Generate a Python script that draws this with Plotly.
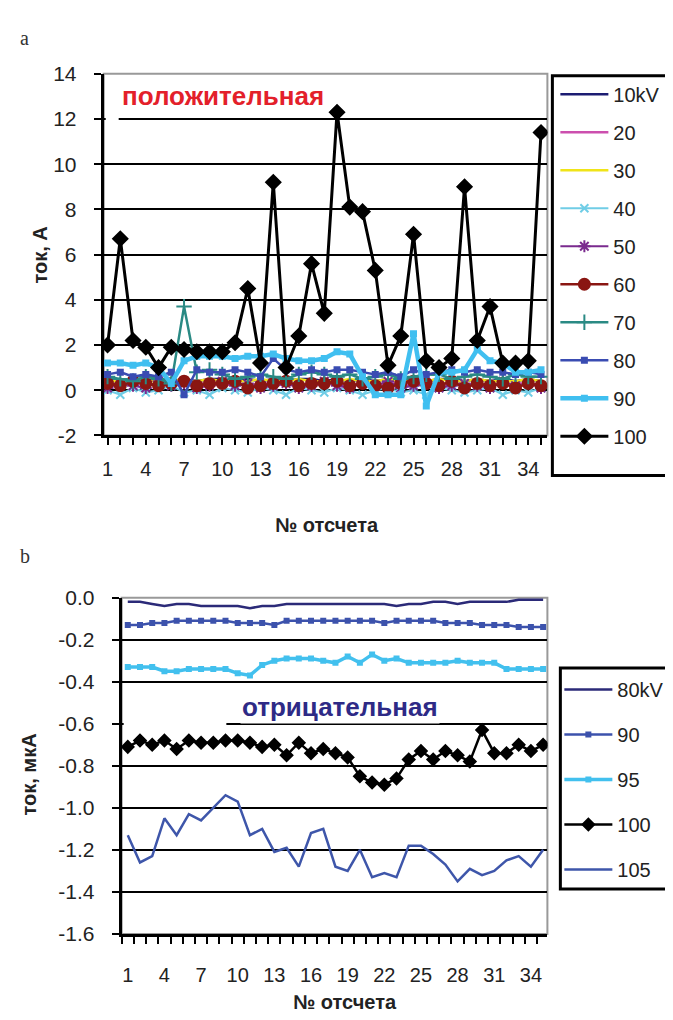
import plotly.graph_objects as go

W, H = 673, 1020

# ---------- данные: панель a (положительная) ----------
otschet = list(range(1, 36))

i_10kV = [0.5, 0.4, 0.5, 0.4, 0.5, 0.4, 0.5, 0.4, 0.5, 0.5, 0.4, 0.5, 0.4, 0.5, 0.4, 0.5, 0.5, 0.4,
          0.5, 0.4, 0.5, 0.4, 0.5, 0.4, 0.5, 0.4, 0.5, 0.5, 0.4, 0.5, 0.4, 0.5, 0.4, 0.5, 0.4]
i_20 = [0.3, 0.2, 0.3, 0.3, 0.2, 0.3, 0.2, 0.3, 0.3, 0.2, 0.3, 0.2, 0.3, 0.3, 0.2, 0.3, 0.2, 0.3,
        0.3, 0.2, 0.3, 0.2, 0.3, 0.3, 0.2, 0.3, 0.2, 0.3, 0.3, 0.2, 0.3, 0.2, 0.3, 0.3, 0.2]
i_30 = [0.4, 0.4, 0.5, 0.4, 0.4, 0.5, 0.4, 0.4, 0.5, 0.4, 0.4, 0.4, 0.5, 0.4, 0.4, 0.5, 0.4, 0.4,
        0.4, 0.5, 0.4, 0.4, 0.5, 0.4, 0.4, 0.4, 0.5, 0.4, 0.4, 0.5, 0.4, 0.4, 0.4, 0.5, 0.4]
i_40 = [0.0, -0.2, 0.1, -0.1, 0.0, 0.2, -0.1, 0.0, -0.2, 0.1, 0.0, -0.1, 0.1, 0.0, -0.2, 0.1, 0.0, -0.1,
        0.1, 0.0, -0.2, 0.0, 0.1, -0.1, 0.0, -0.2, 0.1, 0.0, -0.1, 0.0, 0.1, -0.2, 0.0, -0.1, 0.1]
i_50 = [0.1, 0.3, 0.2, 0.1, 0.4, 0.2, 0.3, 0.1, 0.2, 0.4, 0.2, 0.3, 0.1, 0.2, 0.3, 0.1, 0.2, 0.4,
        0.2, 0.1, 0.3, 0.2, 0.4, 0.1, 0.2, 0.3, 0.1, 0.2, 0.3, 0.2, 0.1, 0.4, 0.2, 0.3, 0.1]
i_60 = [0.3, 0.2, 0.4, 0.3, 0.2, 0.3, 0.4, 0.2, 0.3, 0.3, 0.4, 0.1, 0.2, 0.3, 0.4, 0.2, 0.3, 0.3,
        0.4, 0.2, 0.3, 0.2, 0.1, 0.3, 0.4, 0.3, 0.2, 0.4, 0.1, 0.3, 0.2, 0.3, 0.1, 0.3, 0.2]
i_70 = [0.6, 0.5, 0.4, 0.6, 0.5, 0.3, 3.7, 0.8, 0.9, 0.7, 0.5, 0.6, 0.7, 0.6, 0.5, 0.7, 0.8, 0.7,
        0.6, 0.7, 0.5, 0.6, 0.7, 0.5, 0.6, 0.7, 0.7, 0.5, 0.6, 0.7, 0.6, 0.5, 0.7, 0.6, 0.6]
i_80 = [0.7, 0.8, 0.6, 0.7, 0.6, 0.8, -0.2, 0.9, 0.8, 0.8, 0.9, 0.8, 0.6, 1.4, 0.9, 0.8, 0.9, 0.8,
        0.9, 0.9, 0.8, 0.7, 0.8, 0.6, 0.9, 0.7, 0.8, 0.9, 0.8, 0.9, 0.8, 0.8, 0.7, 0.8, 0.7]
i_90 = [1.2, 1.2, 1.1, 1.2, 1.0, 0.3, 1.3, 1.5, 1.5, 1.5, 1.4, 1.5, 1.5, 1.6, 1.4, 1.3, 1.3, 1.4,
        1.7, 1.6, 0.6, -0.2, -0.2, -0.2, 2.5, -0.7, 0.8, 0.8, 0.9, 1.8, 1.3, 1.2, 0.8, 0.8, 0.9]
i_100 = [2.0, 6.7, 2.2, 1.9, 1.0, 1.9, 1.8, 1.7, 1.7, 1.7, 2.1, 4.5, 1.2, 9.2, 1.0, 2.4, 5.6, 3.4,
         12.3, 8.1, 7.9, 5.3, 1.1, 2.4, 6.9, 1.3, 1.0, 1.4, 9.0, 2.2, 3.7, 1.2, 1.2, 1.3, 11.4]

names_a = ['10kV', '20', '30', '40', '50', '60', '70', '80', '90', '100']
values_a = [i_10kV, i_20, i_30, i_40, i_50, i_60, i_70, i_80, i_90, i_100]

# ---------- данные: панель b (отрицательная) ----------
n_80 = [-0.02, -0.02, -0.03, -0.04, -0.03, -0.03, -0.04, -0.04, -0.04, -0.04, -0.05, -0.04, -0.04,
        -0.03, -0.03, -0.03, -0.03, -0.03, -0.03, -0.03, -0.03, -0.03, -0.04, -0.03, -0.03, -0.02,
        -0.02, -0.03, -0.02, -0.02, -0.02, -0.02, -0.01, -0.01, -0.01]
n_90 = [-0.13, -0.13, -0.12, -0.12, -0.11, -0.11, -0.11, -0.11, -0.11, -0.12, -0.12, -0.12, -0.13,
        -0.11, -0.11, -0.11, -0.11, -0.11, -0.11, -0.11, -0.11, -0.12, -0.11, -0.11, -0.11, -0.11,
        -0.12, -0.12, -0.12, -0.13, -0.13, -0.13, -0.14, -0.14, -0.14]
n_95 = [-0.33, -0.33, -0.33, -0.35, -0.35, -0.34, -0.34, -0.34, -0.34, -0.36, -0.37, -0.32, -0.30,
        -0.29, -0.29, -0.29, -0.30, -0.31, -0.28, -0.31, -0.27, -0.30, -0.29, -0.31, -0.31, -0.31,
        -0.31, -0.30, -0.31, -0.31, -0.31, -0.34, -0.34, -0.34, -0.34]
n_100 = [-0.71, -0.68, -0.70, -0.68, -0.72, -0.68, -0.69, -0.69, -0.68, -0.68, -0.69, -0.71, -0.70,
         -0.75, -0.69, -0.74, -0.72, -0.74, -0.76, -0.85, -0.88, -0.89, -0.86, -0.77, -0.73, -0.77,
         -0.73, -0.75, -0.78, -0.63, -0.74, -0.74, -0.70, -0.73, -0.70]
n_105 = [-1.13, -1.26, -1.23, -1.05, -1.13, -1.03, -1.06, -1.00, -0.94, -0.97, -1.13, -1.10, -1.21,
         -1.19, -1.28, -1.12, -1.10, -1.28, -1.30, -1.20, -1.33, -1.31, -1.33, -1.18, -1.18, -1.22,
         -1.27, -1.35, -1.29, -1.32, -1.30, -1.25, -1.23, -1.28, -1.20]

names_b = ['80kV', '90', '95', '100', '105']
values_b = [n_80, n_90, n_95, n_100, n_105]

# подписи делений
x_ticks = list(range(1, 36, 3))
y_ticks_a = [-2, 0, 2, 4, 6, 8, 10, 12, 14]
y_ticks_b = [-1.6, -1.4, -1.2, -1.0, -0.8, -0.6, -0.4, -0.2, 0.0]


def px(x):
    return x / W


def py(y):
    return 1 - y / H


styles_a = {
    '10kV': dict(color='#1c1c72', width=2.5, symbol=None, size=0),
    '20': dict(color='#cc4fae', width=2.5, symbol=None, size=0),
    '30': dict(color='#f0e418', width=2.5, symbol=None, size=0),
    '40': dict(color='#70cde6', width=2, symbol='x-thin', size=8),
    '50': dict(color='#7a2a8e', width=2, symbol='asterisk', size=10),
    '60': dict(color='#8a1612', width=2.5, symbol='circle', size=11),
    '70': dict(color='#2a8a84', width=2.5, symbol='cross-thin', size=11),
    '80': dict(color='#3a4cb2', width=2.5, symbol='square', size=5),
    '90': dict(color='#40bff0', width=4.5, symbol='square', size=5),
    '100': dict(color='#000000', width=3, symbol='diamond', size=11),
}
styles_b = {
    '80kV': dict(color='#2b2a78', width=2.5, symbol=None, size=0),
    '90': dict(color='#3c52ac', width=2.5, symbol='square', size=4),
    '95': dict(color='#42c0ee', width=3.5, symbol='square', size=4),
    '100': dict(color='#000000', width=2.5, symbol='diamond', size=9),
    '105': dict(color='#3e56aa', width=2.5, symbol=None, size=0),
}

fig = go.Figure()


def add_series(name, y, st, xa, ya, legend, group):
    mode = 'lines' if st['symbol'] is None else 'lines+markers'
    marker = {}
    if st['symbol'] is not None:
        marker = dict(symbol=st['symbol'], size=st['size'], color=st['color'],
                      line=dict(width=2, color=st['color']))
    fig.add_trace(go.Scatter(x=otschet, y=y, name=name, mode=mode, xaxis=xa, yaxis=ya,
                             line=dict(color=st['color'], width=st['width']),
                             marker=marker, legend=legend, legendgroup=group))


for nm, vals in zip(names_a, values_a):
    add_series(nm, vals, styles_a[nm], 'x', 'y', 'legend', 'a' + nm)
for nm, vals in zip(names_b, values_b):
    add_series(nm, vals, styles_b[nm], 'x2', 'y2', 'legend2', 'b' + nm)

font = 'Liberation Sans, Arial, sans-serif'
axis_x = dict(showline=True, linecolor='black', linewidth=3, zeroline=False,
              tickfont=dict(family=font, size=20, color='#222'))
axis_y = dict(showline=True, linecolor='black', linewidth=3, zeroline=False,
              tickfont=dict(family=font, size=21, color='#222'),
              ticks='outside', ticklen=7, tickwidth=2, tickcolor='black', showgrid=True,
              gridcolor='black', gridwidth=2, ticklabelstandoff=13)

fig.update_layout(
    width=W, height=H,
    margin=dict(l=0, r=0, t=0, b=0),
    paper_bgcolor='white', plot_bgcolor='white',
    font=dict(family=font, color='#222'),
    xaxis=dict(domain=[px(94), px(539)], anchor='y', range=[0.7, 35.5], tickmode='array',
               tickvals=x_ticks, ticks='outside', ticklen=7, tickwidth=2, tickcolor='black',
               showgrid=False, ticklabelstandoff=7,
               minor=dict(tick0=1, dtick=1, ticks='outside', ticklen=7, tickwidth=2, tickcolor='black'),
               **axis_x),
    yaxis=dict(domain=[py(425), py(55)], anchor='x', range=[-2, 14], tickmode='array',
               tickvals=y_ticks_a, ticktext=[str(v) for v in y_ticks_a], **axis_y),
    xaxis2=dict(domain=[px(112), px(539)], anchor='y2', range=[0.5, 35.35], tickmode='array',
                tickvals=x_ticks, ticks='', showgrid=False, ticklabelstandoff=21,
                minor=dict(tick0=0.5, dtick=1, ticks='outside', ticklen=7, tickwidth=2, tickcolor='black'),
                **axis_x),
    yaxis2=dict(domain=[py(935), py(591)], anchor='x2', range=[-1.6, 0], tickmode='array',
                tickvals=y_ticks_b, ticktext=['%.1f' % v for v in y_ticks_b], **axis_y),
    legend=dict(x=px(547), y=py(56), xanchor='left', yanchor='top', bgcolor='rgba(0,0,0,0)',
                traceorder='grouped', tracegroupgap=9, itemwidth=48,
                font=dict(family=font, size=20, color='#222')),
    legend2=dict(x=px(551), y=py(665), xanchor='left', yanchor='top', bgcolor='rgba(0,0,0,0)',
                 traceorder='grouped', tracegroupgap=16, itemwidth=48,
                 font=dict(family=font, size=20, color='#222')),
)

# рамки области построения и легенд
fig.add_shape(type='rect', xref='x domain', yref='y domain', x0=0, x1=1, y0=0, y1=1,
              line=dict(color='#999', width=2), layer='below')
fig.add_shape(type='rect', xref='x2 domain', yref='y2 domain', x0=0, x1=1, y0=0, y1=1,
              line=dict(color='#999', width=2), layer='below')
fig.add_shape(type='rect', xref='paper', yref='paper', x0=px(544), x1=1.05, y0=py(466), y1=py(57),
              line=dict(color='black', width=3))
fig.add_shape(type='rect', xref='paper', yref='paper', x0=px(552), x1=1.05, y0=py(889), y1=py(663),
              line=dict(color='black', width=3))
# белые подложки надписей, прерывающие линии сетки
fig.add_shape(type='rect', xref='paper', yref='paper', x0=px(96), x1=px(109), y0=py(103), y1=py(97),
              fillcolor='white', line=dict(width=0))
fig.add_shape(type='rect', xref='paper', yref='paper', x0=px(114), x1=px(217), y0=py(723), y1=py(717),
              fillcolor='white', line=dict(width=0))

# подписи
ann = [
    dict(text='a', x=px(15), y=py(18), font=dict(family='Liberation Serif, serif', size=20, color='#333')),
    dict(text='b', x=px(15), y=py(548), font=dict(family='Liberation Serif, serif', size=20, color='#333')),
    dict(text='<b>ток, А</b>', x=px(30), y=py(240), textangle=-90, font=dict(size=20)),
    dict(text='<b>ток, мкА</b>', x=px(19), y=py(772), textangle=-90, font=dict(size=20)),
    dict(text='<b>№ отсчета</b>', x=px(318), y=py(517), font=dict(size=20)),
    dict(text='<b>№ отсчета</b>', x=px(336), y=py(1005), font=dict(size=20)),
    dict(text='<b>положительная</b>', x=px(214), y=py(78), bgcolor='white',
         font=dict(size=26, color='#e3202a')),
    dict(text='<b>отрицательная</b>', x=px(331), y=py(703), bgcolor='white',
         font=dict(size=26, color='#2e2a86')),
]
for a in ann:
    a.setdefault('xanchor', 'center')
    a.setdefault('yanchor', 'middle')
    fig.add_annotation(xref='paper', yref='paper', showarrow=False, **a)

fig.write_html('out.html')
